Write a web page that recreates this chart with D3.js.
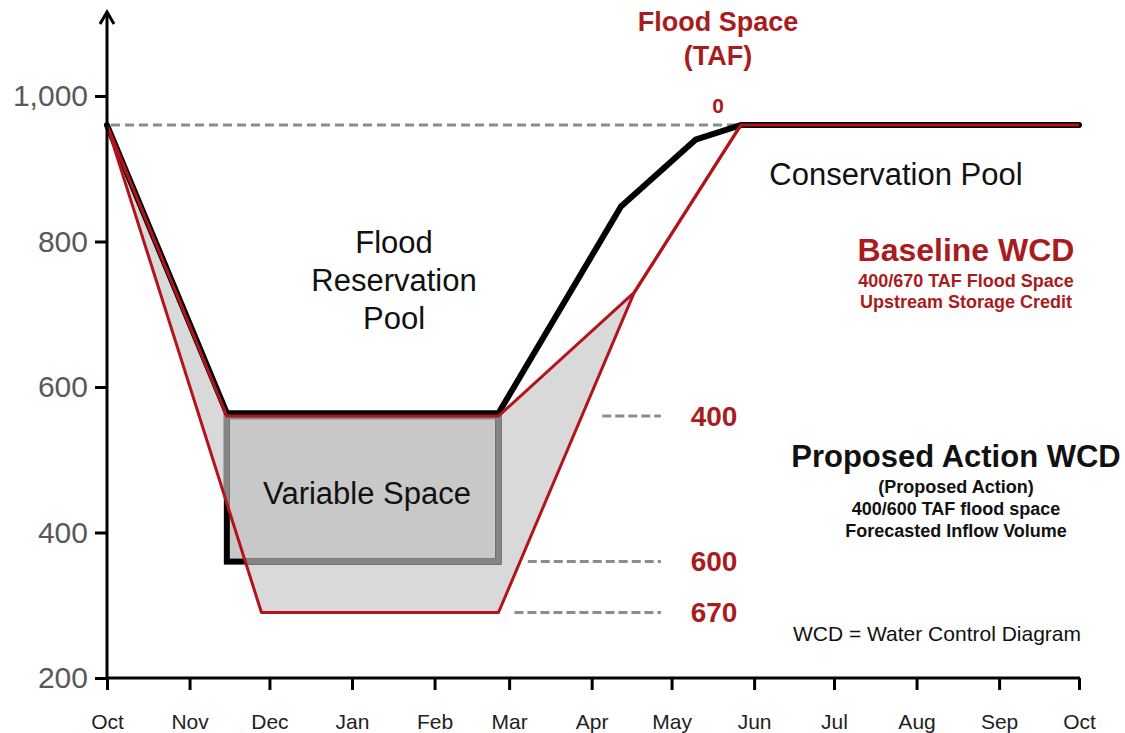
<!DOCTYPE html>
<html>
<head>
<meta charset="utf-8">
<script src="https://cdn.jsdelivr.net/npm/d3@7"></script>
<style>
  body { margin: 0; background: #fff; }
  svg { display: block; font-family: "Liberation Sans", Arial, sans-serif; }
</style>
</head>
<body>
<svg id="chart" width="1125" height="733"></svg>
<script>
const width = 1125
const height = 733

// storage (TAF) on y, water year Oct..Oct on x
const yTicks = [200, 400, 600, 800, 1000]
const topOfConservation = 960

// Baseline WCD, 670 TAF envelope (outer red line)
const outerDates = ["2000-10-01", "2000-11-28", "2001-02-25", "2001-04-17", "2001-05-27", "2001-10-01"]
const outerValues = [960, 290, 290, 730, 960, 960]

// Baseline WCD, 400 TAF (inner red line)
const innerDates = ["2000-10-01", "2000-11-15", "2001-02-25", "2001-04-17", "2001-05-27"]
const innerValues = [960, 560, 560, 730, 960]

// Proposed action WCD (black line)
const proposedDates = ["2000-10-01", "2000-11-15", "2001-02-25", "2001-04-12", "2001-05-10", "2001-05-27", "2001-10-01"]
const proposedValues = [960, 564, 564, 848, 940, 960, 960]

// variable space box
const variableDates = ["2000-11-15", "2001-02-25"]
const variableValues = [560, 360]

// flood space reference marks
const spaceLabels = ["400", "600", "670"]
const spaceLevels = [560, 360, 290]
const spaceDashStart = ["2001-04-05", "2001-03-08", "2001-03-03"]
const spaceDashEnd = "2001-04-27"

const red = "#b3141c"
const textRed = "#a81c20"

const parse = d3.utcParse("%Y-%m-%d")
const pts = (dates, vals) => dates.map((d, i) => [parse(d), vals[i]])

const x = d3.scaleUtc()
	.domain([parse("2000-10-01"), parse("2001-10-01")])
	.range([107, 1079])

const y = d3.scaleLinear()
	.domain([200, 1000])
	.range([678, 96])

const line = d3.line()
	.x(d => x(d[0]))
	.y(d => y(d[1]))

const svg = d3.select("#chart")

const outer = pts(outerDates, outerValues)
const inner = pts(innerDates, innerValues)
const proposed = pts(proposedDates, proposedValues)

// envelope between 400 and 670 TAF lines
const band = outer.slice(0, 5).concat(inner.slice().reverse())
svg.append("path")
	.attr("d", line(band) + "Z")
	.attr("fill", "#d9d9d9")

svg.append("clipPath")
	.attr("id", "bandClip")
	.append("path")
	.attr("d", line(outer.slice(0, 5)) + "Z")

// dashed top of conservation line
svg.append("line")
	.attr("x1", x(parse("2000-10-01")) + 4)
	.attr("x2", x(parse("2001-05-27")))
	.attr("y1", y(topOfConservation))
	.attr("y2", y(topOfConservation))
	.attr("stroke", "#8c8c8c")
	.attr("stroke-width", 3)
	.attr("stroke-dasharray", "9,5")

// variable space box
const vx0 = x(parse(variableDates[0]))
const vx1 = x(parse(variableDates[1]))
const vy0 = y(variableValues[0])
const vy1 = y(variableValues[1])

svg.append("rect")
	.attr("x", vx0).attr("y", vy0)
	.attr("width", vx1 - vx0).attr("height", vy1 - vy0)
	.attr("fill", "#c8c8c8")
	.attr("stroke", "#000")
	.attr("stroke-width", 6)

svg.append("rect")
	.attr("x", vx0).attr("y", vy0)
	.attr("width", vx1 - vx0).attr("height", vy1 - vy0)
	.attr("fill", "none")
	.attr("stroke", "#858585")
	.attr("stroke-width", 6)
	.attr("clip-path", "url(#bandClip)")

// proposed action line
svg.append("path")
	.attr("d", line(proposed))
	.attr("fill", "none")
	.attr("stroke", "#000")
	.attr("stroke-width", 6)
	.attr("stroke-linejoin", "round")
	.attr("stroke-linecap", "round")

// baseline lines
svg.append("path")
	.attr("d", line(outer))
	.attr("fill", "none")
	.attr("stroke", red)
	.attr("stroke-width", 3)
	.attr("stroke-linejoin", "round")

svg.append("path")
	.attr("d", line(inner))
	.attr("fill", "none")
	.attr("stroke", red)
	.attr("stroke-width", 3)
	.attr("stroke-linejoin", "round")

// flood space dashes and labels
spaceLevels.forEach((v, i) => {
	svg.append("line")
		.attr("x1", x(parse(spaceDashStart[i])))
		.attr("x2", x(parse(spaceDashEnd)))
		.attr("y1", y(v))
		.attr("y2", y(v))
		.attr("stroke", "#8c8c8c")
		.attr("stroke-width", 3)
		.attr("stroke-dasharray", "9,4")
	svg.append("text")
		.attr("x", 714)
		.attr("y", y(v))
		.attr("dy", "0.35em")
		.attr("text-anchor", "middle")
		.attr("font-size", 28)
		.attr("font-weight", "bold")
		.attr("fill", textRed)
		.text(spaceLabels[i])
})

svg.append("text")
	.attr("x", 718).attr("y", 106)
	.attr("dy", "0.35em")
	.attr("text-anchor", "middle")
	.attr("font-size", 21)
	.attr("font-weight", "bold")
	.attr("fill", textRed)
	.text("0")

svg.append("text")
	.attr("text-anchor", "middle")
	.attr("font-size", 27)
	.attr("font-weight", "bold")
	.attr("fill", textRed)
	.selectAll("tspan")
	.data(["Flood Space", "(TAF)"])
	.enter().append("tspan")
	.attr("x", 718)
	.attr("y", (d, i) => 31 + i * 34)
	.text(d => d)

// axes
const yAxis = svg.append("g")
	.attr("transform", `translate(${x.range()[0]},0)`)
	.call(d3.axisLeft(y).tickValues(yTicks).tickSize(12).tickPadding(7).tickFormat(d3.format(",")))
yAxis.select(".domain").remove()
yAxis.selectAll(".tick line").attr("stroke-width", 3)
yAxis.selectAll(".tick text")
	.attr("font-size", 30)
	.attr("fill", "#595959")
	.attr("font-family", "Liberation Sans, Arial, sans-serif")

const xAxis = svg.append("g")
	.attr("transform", `translate(0,${y(200)})`)
	.call(d3.axisBottom(x).ticks(d3.utcMonth.every(1)).tickSize(12).tickPadding(24).tickFormat(d3.utcFormat("%b")))
xAxis.select(".domain").remove()
xAxis.selectAll(".tick line").attr("stroke-width", 3)
xAxis.selectAll(".tick text")
	.attr("font-size", 21)
	.attr("fill", "#222")
	.attr("font-family", "Liberation Sans, Arial, sans-serif")

svg.append("line")
	.attr("x1", x.range()[0] - 1).attr("x2", x.range()[1] + 1)
	.attr("y1", y(200)).attr("y2", y(200))
	.attr("stroke", "#000").attr("stroke-width", 3)

svg.append("line")
	.attr("x1", x.range()[0]).attr("x2", x.range()[0])
	.attr("y1", y(200) + 1).attr("y2", 14)
	.attr("stroke", "#000").attr("stroke-width", 3)

svg.append("path")
	.attr("d", `M${x.range()[0] - 7},24 L${x.range()[0]},12 L${x.range()[0] + 7},24`)
	.attr("fill", "none")
	.attr("stroke", "#000")
	.attr("stroke-width", 3)

// pool annotations
function label(lines, cx, cy, size, weight, fill, lh) {
	svg.append("text")
		.attr("text-anchor", "middle")
		.attr("font-size", size)
		.attr("font-weight", weight)
		.attr("fill", fill)
		.selectAll("tspan")
		.data(lines)
		.enter().append("tspan")
		.attr("x", cx)
		.attr("y", (d, i) => cy + i * lh)
		.attr("dy", "0.35em")
		.text(d => d)
}

label(["Flood", "Reservation", "Pool"], 394, 242, 31, "normal", "#111", 38)
label(["Conservation Pool"], 896, 174, 31, "normal", "#111", 0)
label(["Variable Space"], 367, 493, 31, "normal", "#111", 0)
label(["Baseline WCD"], 966, 250, 32, "bold", textRed, 0)
label(["400/670 TAF Flood Space", "Upstream Storage Credit"], 966, 281, 18, "bold", textRed, 21)
label(["Proposed Action WCD"], 956, 456, 31, "bold", "#111", 0)
label(["(Proposed Action)", "400/600 TAF flood space", "Forecasted Inflow Volume"], 956, 487, 18, "bold", "#111", 22)
label(["WCD = Water Control Diagram"], 937, 634, 21, "normal", "#111", 0)
</script>
</body>
</html>
